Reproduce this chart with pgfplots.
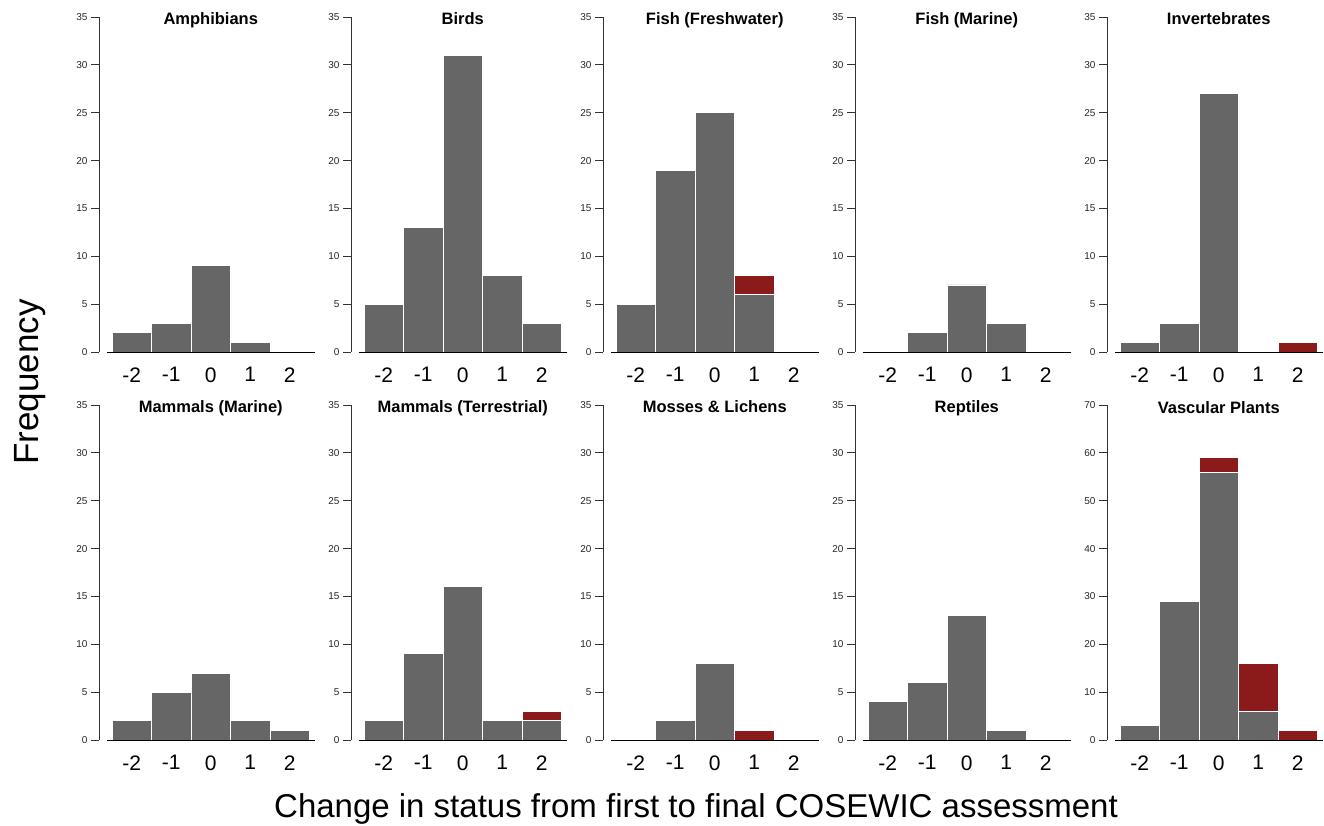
\documentclass[border=0pt]{standalone}
\usepackage{fontspec}
\setmainfont{Liberation Sans}
\usepackage{pgfplots}
\pgfplotsset{compat=1.18}
\definecolor{barGray}{HTML}{666666}
\definecolor{barRed}{HTML}{8B1A1A}
\pgfplotsset{
  panel/.style={
    scale only axis, width=216pt, height=335pt,
    xmin=-2.83, xmax=2.64, ymin=0, ymax=35,
    axis x line=bottom, axis y line=left,
    x axis line style={draw=none},
    y axis line style={-, black!80, line width=0.8pt},
    xtick={-2,-1,0,1,2}, xtick style={draw=none},
    ytick={0,5,...,35},
    y tick style={black!80, line width=0.8pt},
    tick align=outside, major tick length=8pt,
    y tick label style={font=\fontsize{10}{10}\selectfont, text=black!85},
    x tick label style={font=\fontsize{21}{21}\selectfont, yshift=-4pt},
    ybar stacked, bar width=1,
    clip=false,
    /pgf/number format/assume math mode=true,
    anchor=south west,
    after end axis/.append code={\draw[black, line width=0.9pt] (axis cs:-2.63,0) -- (axis cs:2.64,0);},
  },
  gbar/.style={fill=barGray, draw=white, line width=0.8pt},
  rbar/.style={fill=barRed, draw=white, line width=0.8pt},
}
\newcommand{\ptitle}[2]{\node[anchor=base, font=\bfseries\fontsize{16.5}{16.5}\selectfont] at ([yshift=-8pt]axis cs:0,#2) {#1};}
\begin{document}
\begin{tikzpicture}
\useasboundingbox (0pt,0pt) rectangle (1324pt,825pt);
% ---- top row ----
\begin{axis}[panel, at={(99pt,473pt)}]
\addplot[gbar] coordinates {(-2,2) (-1,3) (0,9) (1,1) (2,0)};
\ptitle{Amphibians}{35}
\end{axis}
\begin{axis}[panel, at={(351pt,473pt)}]
\addplot[gbar] coordinates {(-2,5) (-1,13) (0,31) (1,8) (2,3)};
\ptitle{Birds}{35}
\end{axis}
\begin{axis}[panel, at={(603pt,473pt)}]
\addplot[gbar] coordinates {(-2,5) (-1,19) (0,25) (1,6) (2,0)};
\addplot[rbar] coordinates {(-2,0) (-1,0) (0,0) (1,2) (2,0)};
\ptitle{Fish (Freshwater)}{35}
\end{axis}
\begin{axis}[panel, at={(855pt,473pt)}]
\addplot[gbar] coordinates {(-2,0) (-1,2) (0,7) (1,3) (2,0)};
\ptitle{Fish (Marine)}{35}
\end{axis}
\begin{axis}[panel, at={(1107pt,473pt)}]
\addplot[gbar] coordinates {(-2,1) (-1,3) (0,27) (1,0) (2,0)};
\addplot[rbar] coordinates {(-2,0) (-1,0) (0,0) (1,0) (2,1)};
\ptitle{Invertebrates}{35}
\end{axis}
% ---- bottom row ----
\begin{axis}[panel, at={(99pt,85pt)}]
\addplot[gbar] coordinates {(-2,2) (-1,5) (0,7) (1,2) (2,1)};
\ptitle{Mammals (Marine)}{35}
\end{axis}
\begin{axis}[panel, at={(351pt,85pt)}]
\addplot[gbar] coordinates {(-2,2) (-1,9) (0,16) (1,2) (2,2)};
\addplot[rbar] coordinates {(-2,0) (-1,0) (0,0) (1,0) (2,1)};
\ptitle{Mammals (Terrestrial)}{35}
\end{axis}
\begin{axis}[panel, at={(603pt,85pt)}]
\addplot[gbar] coordinates {(-2,0) (-1,2) (0,8) (1,0) (2,0)};
\addplot[rbar] coordinates {(-2,0) (-1,0) (0,0) (1,1) (2,0)};
\ptitle{Mosses \& Lichens}{35}
\end{axis}
\begin{axis}[panel, at={(855pt,85pt)}]
\addplot[gbar] coordinates {(-2,4) (-1,6) (0,13) (1,1) (2,0)};
\ptitle{Reptiles}{35}
\end{axis}
\begin{axis}[panel, at={(1107pt,85pt)}, ymax=70, ytick={0,10,...,70}]
\addplot[gbar] coordinates {(-2,3) (-1,29) (0,56) (1,6) (2,0)};
\addplot[rbar] coordinates {(-2,0) (-1,0) (0,3) (1,10) (2,2)};
\ptitle{Vascular Plants}{70}
\end{axis}
% ---- shared labels ----
\node[rotate=90, anchor=base, font=\fontsize{35}{35}\selectfont] at (38pt,443pt) {Frequency};
\node[anchor=base, font=\fontsize{33}{33}\selectfont] at (696pt,8pt) {Change in status from first to final COSEWIC assessment};
\end{tikzpicture}
\end{document}
